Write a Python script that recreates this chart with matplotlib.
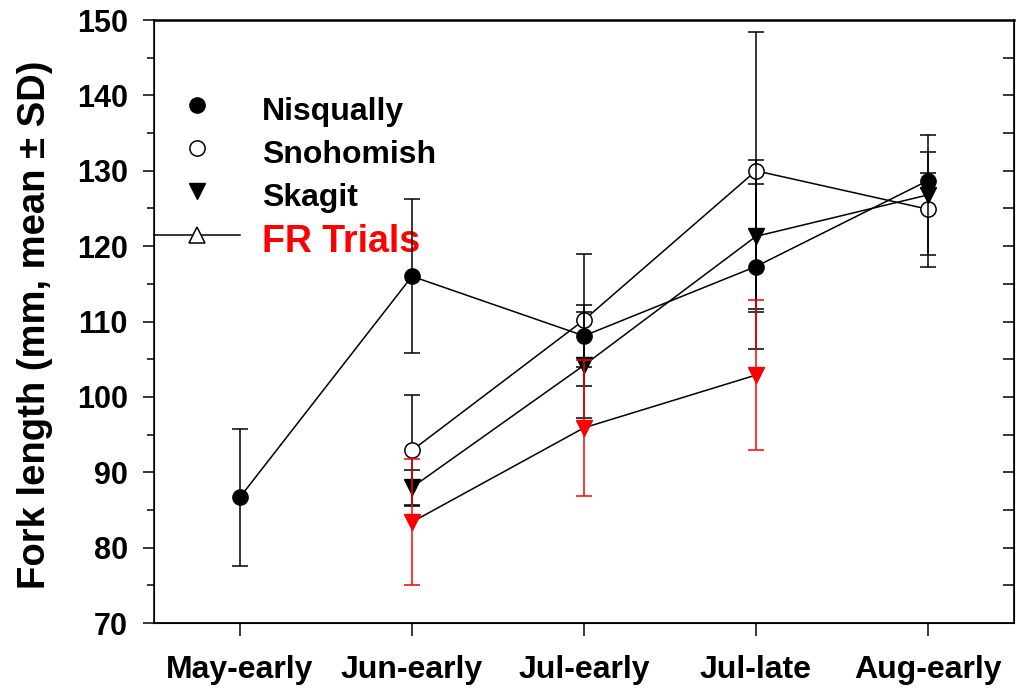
import numpy as np
import matplotlib.pyplot as plt
from matplotlib.lines import Line2D

plt.rcParams['font.family'] = ['Liberation Sans', 'DejaVu Sans']
plt.rcParams['font.weight'] = 'bold'

# sampling periods
periods = ['May-early', 'Jun-early', 'Jul-early', 'Jul-late', 'Aug-early']

# fork length mean and SD per group (mm)
nisq_x = [0, 1, 2, 3, 4]
nisq_mean = [86.7, 116.0, 108.1, 117.3, 128.7]
nisq_sd = [9.1, 10.2, 4.1, 11.0, 1.0]

snoh_x = [1, 2, 3, 4]
snoh_mean = [92.9, 110.2, 130.0, 124.9]
snoh_sd = [7.4, 8.8, 18.4, 7.6]

skag_x = [1, 2, 3, 4]
skag_mean = [88.0, 104.2, 121.3, 126.8]
skag_sd = [2.3, 7.0, 10.1, 8.0]

fr_x = [1, 2, 3]
fr_mean = [83.4, 95.9, 102.9]
fr_sd = [8.3, 9.0, 10.0]

fig = plt.figure(figsize=(10.16, 6.91), dpi=100)
ax = fig.add_axes([0.1516, 0.0984, 0.8464, 0.8726])

ms = 11
common = dict(color='black', lw=1.1, capsize=6, capthick=1.1, elinewidth=1.1, ecolor='black')

ax.errorbar(snoh_x, snoh_mean, yerr=snoh_sd, fmt='o', mfc='white', mec='black',
            mew=1.1, ms=ms, ls='-', zorder=2, **common)
ax.errorbar(skag_x, skag_mean, yerr=skag_sd, fmt='v', mfc='black', mec='black',
            ms=ms, ls='-', zorder=3, **common)
ax.errorbar(nisq_x, nisq_mean, yerr=nisq_sd, fmt='o', mfc='black', mec='black',
            ms=ms, ls='-', zorder=4, **common)
# FR trials: black connecting line, red markers and error bars
ax.plot(fr_x, fr_mean, color='black', lw=1.1, zorder=5)
ax.errorbar(fr_x, fr_mean, yerr=fr_sd, fmt='v', mfc='red', mec='red', ms=ms,
            ecolor='red', elinewidth=1.1, capsize=6, capthick=1.1, zorder=6)

ax.set_xlim(-0.5, 4.5)
ax.set_ylim(70, 150)
ax.set_xticks(range(len(periods)))
ax.set_xticklabels(periods, fontsize=23, fontweight='bold')
ax.set_yticks(np.arange(70, 151, 10))
ax.set_yticks(np.arange(75, 150, 10), minor=True)
ax.tick_params(axis='y', which='major', direction='out', length=8, width=1.1,
               labelsize=22, pad=11)
ax.tick_params(axis='y', which='minor', direction='out', length=5, width=1.1)
ax.tick_params(axis='x', which='major', direction='out', length=9, width=1.1, pad=14)
ax.tick_params(axis='x', which='minor', bottom=False)
for lab in ax.get_yticklabels():
    lab.set_fontweight('bold')

ax.spines['top'].set_linewidth(1.8)
ax.spines['left'].set_linewidth(1.1)
ax.spines['bottom'].set_linewidth(1.3)
ax.spines['right'].set_linewidth(1.2)

# inward ticks on the right side
ax2 = ax.twinx()
ax2.set_ylim(70, 150)
ax2.set_yticks(np.arange(75, 150, 5))
ax2.tick_params(axis='y', direction='in', length=8, width=1.1, labelright=False)
ax2.spines['top'].set_visible(False)

ax.set_ylabel('Fork length (mm, mean \u00b1 SD)', fontsize=27.5, fontweight='bold')
ax.yaxis.set_label_coords(-0.117, 0.494)

# legend drawn by hand
leg_x, txt_x = 0.05, 0.1256
rows = [0.859, 0.788, 0.716, 0.643]
txt_dy = -0.011
ax.add_line(Line2D([leg_x], [rows[0]], marker='o', ms=ms, mfc='black', mec='black',
                   ls='none', transform=ax.transAxes, clip_on=False))
ax.add_line(Line2D([leg_x], [rows[1]], marker='o', ms=ms, mfc='white', mec='black',
                   mew=1.1, ls='none', transform=ax.transAxes, clip_on=False))
ax.add_line(Line2D([leg_x], [rows[2]], marker='v', ms=ms, mfc='black', mec='black',
                   ls='none', transform=ax.transAxes, clip_on=False))
ax.add_line(Line2D([0.0, 0.1], [rows[3], rows[3]], color='black', lw=1.1,
                   transform=ax.transAxes, clip_on=False))
ax.add_line(Line2D([leg_x], [rows[3]], marker='^', ms=ms, mfc='white', mec='black',
                   mew=1.1, ls='none', transform=ax.transAxes, clip_on=False))
names = ['Nisqually', 'Snohomish', 'Skagit']
for name, ry in zip(names, rows[:3]):
    ax.text(txt_x, ry + txt_dy, name, transform=ax.transAxes, fontsize=23,
            fontweight='bold', va='center')
ax.text(txt_x, rows[3] + txt_dy, 'FR Trials', transform=ax.transAxes, fontsize=27,
        fontweight='bold', color='red', va='center')

fig.savefig('out.png', dpi=100)
